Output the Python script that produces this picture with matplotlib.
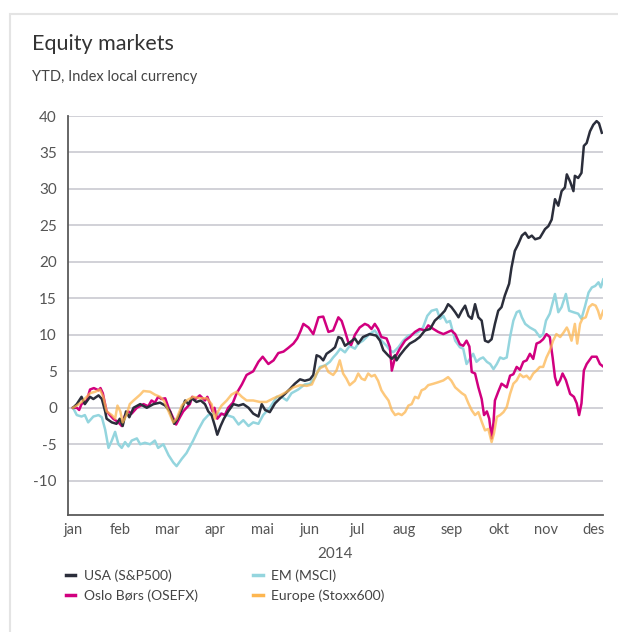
import numpy as np
import matplotlib
matplotlib.use("Agg")
import matplotlib.pyplot as plt
from matplotlib.patches import Rectangle

# ---------------- data (x in month units: 0 = jan, 11 = des) ----------------
months = ["jan", "feb", "mar", "apr", "mai", "jun", "jul", "aug", "sep", "okt", "nov", "des"]
year_label = "2014"
y_ticks = [-10, -5, 0, 5, 10, 15, 20, 25, 30, 35, 40]

usa_t = [0, 0.08, 0.18, 0.25, 0.36, 0.43, 0.54, 0.61, 0.68, 0.71, 0.82, 0.92, 0.99, 1.05, 1.12, 1.19,
         1.28, 1.42, 1.56, 1.70, 1.84, 1.95, 2.05, 2.14, 2.21, 2.28, 2.37, 2.44, 2.51, 2.61, 2.70, 2.79,
         2.86, 2.93, 3.00, 3.05, 3.12, 3.19, 3.28, 3.39, 3.50, 3.60, 3.71, 3.81, 3.92, 3.99, 4.06, 4.16,
         4.27, 4.37, 4.48, 4.59, 4.69, 4.80, 4.90, 5.01, 5.08, 5.15, 5.22, 5.29, 5.36, 5.47, 5.54, 5.61,
         5.68, 5.75, 5.86, 5.96, 6.03, 6.13, 6.27, 6.41, 6.49, 6.56, 6.66, 6.74, 6.81, 6.84, 6.91, 7.02,
         7.12, 7.23, 7.33, 7.44, 7.55, 7.65, 7.76, 7.86, 7.93, 8.00, 8.08, 8.15, 8.22, 8.29, 8.36, 8.43,
         8.50, 8.57, 8.64, 8.71, 8.78, 8.85, 8.92, 8.99, 9.06, 9.13, 9.22, 9.27, 9.34, 9.41, 9.49, 9.56,
         9.63, 9.70, 9.77, 9.87, 9.98, 10.05, 10.12, 10.19, 10.26, 10.33, 10.40, 10.44, 10.51, 10.58,
         10.61, 10.68, 10.75, 10.80, 10.86, 10.93, 11.00, 11.07, 11.12, 11.18]
usa_v = [0, 0.5, 1.5, 0.5, 1.5, 1.2, 1.7, 1.2, -0.5, -1.5, -2.0, -2.2, -1.5, -2.5, -0.5, -1.3,
         0, 0.5, 0, 0.5, 0.7, 0.3, -0.5, -2.2, -1.5, -0.5, 1.0, 0.5, 1.3, 0.8, 1.0, 0.5,
         -0.5, -1.0, -2.5, -3.7, -2.5, -1.5, -0.5, 0.5, 0.3, 0.5, 0, -0.8, -1.2, 0.5, -0.3, -0.6,
         0.6, 1.25, 1.9, 2.6, 3.3, 3.9, 3.7, 3.9, 4.5, 7.2, 7.0, 6.5, 7.4, 7.9, 8.3, 9.7,
         9.5, 8.5, 9.0, 9.5, 8.8, 9.7, 10.1, 9.9, 9.2, 7.9, 7.2, 6.7, 7.2, 6.5, 7.2, 8.1,
         8.8, 9.2, 9.7, 10.6, 10.8, 11.95, 12.6, 13.3, 14.2, 13.8, 13.1, 12.4, 13.3, 14.0, 12.6, 12.2,
         14.2, 12.4, 11.95, 9.2, 9.0, 9.4, 11.5, 13.3, 13.8, 15.4, 17.0, 19.2, 21.5, 22.4, 23.6, 24.0,
         23.3, 23.6, 23.1, 23.3, 24.5, 24.9, 25.8, 28.6, 27.7, 29.7, 30.2, 32.0, 31.0, 29.7,
         31.8, 31.5, 32.2, 35.9, 36.3, 37.9, 38.8, 39.3, 39.0, 37.7]

em_t = [0, 0.08, 0.18, 0.25, 0.32, 0.43, 0.54, 0.61, 0.68, 0.75, 0.82, 0.89, 0.96, 1.03, 1.10, 1.17,
        1.24, 1.35, 1.42, 1.52, 1.63, 1.73, 1.80, 1.91, 2.02, 2.12, 2.19, 2.30, 2.40, 2.54, 2.65, 2.76,
        2.86, 2.97, 3.11, 3.25, 3.39, 3.50, 3.60, 3.71, 3.81, 3.92, 4.02, 4.16, 4.31, 4.41, 4.52, 4.62,
        4.76, 4.90, 5.01, 5.12, 5.22, 5.33, 5.43, 5.50, 5.57, 5.65, 5.75, 5.85, 5.96, 6.03, 6.13, 6.27,
        6.38, 6.45, 6.52, 6.63, 6.70, 6.77, 6.88, 6.98, 7.09, 7.19, 7.30, 7.40, 7.49, 7.58, 7.69, 7.76,
        7.83, 7.90, 7.97, 8.08, 8.18, 8.25, 8.32, 8.39, 8.46, 8.53, 8.60, 8.67, 8.75, 8.82, 8.89, 8.96,
        9.03, 9.10, 9.17, 9.24, 9.31, 9.38, 9.44, 9.49, 9.56, 9.66, 9.77, 9.87, 9.94, 10.00, 10.08,
        10.19, 10.26, 10.33, 10.42, 10.49, 10.58, 10.68, 10.75, 10.82, 10.90, 10.97, 11.04, 11.11,
        11.16, 11.21]
em_v = [0, -1.0, -1.2, -1.0, -2.0, -1.2, -1.0, -1.3, -3.0, -5.5, -4.5, -3.3, -5.0, -5.5, -4.7, -5.3,
        -4.5, -4.2, -5.0, -4.8, -5.0, -4.5, -5.5, -5.0, -6.5, -7.5, -8.0, -7.0, -6.2, -4.5, -3.0, -1.7,
        -1.0, -0.8, -0.8, -1.0, -1.3, -2.3, -1.7, -2.5, -2.0, -2.2, -1.0, 0, 1.5, 1.5, 1.0, 2.0,
        2.5, 3.2, 3.3, 4.2, 5.6, 5.8, 6.3, 6.9, 7.4, 8.1, 7.6, 8.5, 8.1, 8.8, 9.2, 10.1,
        10.6, 9.9, 9.2, 8.5, 7.9, 7.6, 8.3, 9.2, 9.9, 10.1, 10.4, 11.0, 12.6, 13.3, 13.5, 12.2,
        12.6, 11.7, 11.9, 9.2, 8.3, 8.1, 6.0, 6.7, 7.4, 6.3, 6.7, 6.9, 6.3, 6.0, 5.3, 6.0,
        6.9, 6.7, 6.9, 9.7, 11.95, 13.1, 13.3, 12.4, 11.5, 11.0, 10.6, 9.7, 10.1, 11.95, 12.9,
        15.6, 13.1, 13.8, 15.6, 13.3, 13.1, 12.9, 12.2, 13.8, 15.8, 16.5, 16.7, 17.2,
        16.5, 17.6]

oslo_t = [0, 0.08, 0.13, 0.18, 0.29, 0.36, 0.44, 0.54, 0.58, 0.63, 0.71, 0.85, 0.96, 1.03, 1.10, 1.17,
          1.24, 1.35, 1.49, 1.59, 1.66, 1.73, 1.80, 1.87, 1.95, 2.02, 2.09, 2.18, 2.26, 2.33, 2.40, 2.47,
          2.52, 2.59, 2.68, 2.79, 2.84, 2.90, 2.95, 2.99, 3.05, 3.14, 3.21, 3.28, 3.38, 3.46, 3.57, 3.67,
          3.81, 3.92, 4.01, 4.13, 4.24, 4.34, 4.45, 4.55, 4.66, 4.74, 4.81, 4.87, 4.98, 5.08, 5.19, 5.29,
          5.40, 5.50, 5.61, 5.68, 5.75, 5.82, 5.88, 5.96, 6.06, 6.17, 6.24, 6.31, 6.38, 6.45, 6.52, 6.63,
          6.70, 6.74, 6.81, 6.91, 7.02, 7.12, 7.23, 7.33, 7.44, 7.51, 7.62, 7.72, 7.83, 7.93, 8.00, 8.08,
          8.18, 8.25, 8.32, 8.38, 8.43, 8.50, 8.57, 8.64, 8.69, 8.75, 8.80, 8.85, 8.89, 8.92, 8.99, 9.06,
          9.17, 9.24, 9.31, 9.38, 9.45, 9.52, 9.59, 9.66, 9.73, 9.80, 9.87, 9.94, 10.01, 10.08, 10.14,
          10.19, 10.24, 10.30, 10.35, 10.42, 10.51, 10.59, 10.65, 10.70, 10.75, 10.80, 10.86, 10.97,
          11.07, 11.14, 11.20]
oslo_v = [0, 0, -0.3, 0.5, 1.0, 2.5, 2.7, 2.4, 2.7, 2.0, -0.5, -1.5, -2.0, -2.5, -1.0, -0.5,
          -0.8, 0, 0.5, 0.2, 1.0, 0.7, 1.5, 1.2, 1.3, 0, -1.0, -2.3, -1.3, -0.5, 0, 0.5,
          1.5, 1.2, 1.7, 1.0, 1.5, 0.5, -0.5, 0, -1.5, -0.8, -1.0, 0, 0.7, 2.0, 3.2, 4.5,
          5.0, 6.3, 7.0, 6.0, 6.5, 7.5, 7.7, 8.2, 8.8, 9.5, 10.5, 11.5, 11.0, 10.1, 12.4, 12.5,
          10.4, 10.6, 12.4, 11.9, 10.5, 9.0, 8.6, 10.0, 11.0, 11.5, 11.3, 10.8, 11.5, 10.8, 9.7, 9.5,
          8.3, 5.1, 6.9, 8.1, 9.2, 9.7, 10.4, 10.8, 10.6, 11.3, 10.8, 10.4, 10.1, 10.4, 10.6, 10.1,
          8.7, 8.5, 9.2, 8.4, 4.9, 4.7, 2.8, 1.2, -1.0, -0.5, -1.5, -4.2, -2.0, 1.0, 2.2, 3.3,
          2.8, 4.4, 4.6, 5.6, 5.2, 6.3, 6.5, 7.4, 6.7, 8.8, 9.0, 9.4, 10.1, 9.7, 6.9,
          4.2, 3.1, 3.8, 4.7, 3.8, 1.9, 1.5, 0.6, -1.0, 0.6, 5.1, 6.0, 7.0,
          7.0, 6.0, 5.7]

europe_t = [0, 0.08, 0.18, 0.29, 0.36, 0.47, 0.57, 0.64, 0.71, 0.82, 0.89, 0.94, 1.00, 1.05, 1.13, 1.20,
            1.28, 1.42, 1.49, 1.63, 1.73, 1.84, 1.92, 2.02, 2.12, 2.19, 2.30, 2.40, 2.54, 2.68, 2.83, 2.93,
            3.00, 3.04, 3.14, 3.25, 3.35, 3.46, 3.57, 3.67, 3.81, 3.95, 4.09, 4.24, 4.38, 4.52, 4.66, 4.80,
            4.94, 5.05, 5.12, 5.15, 5.22, 5.33, 5.40, 5.50, 5.57, 5.64, 5.71, 5.78, 5.85, 5.96, 6.03, 6.10,
            6.17, 6.24, 6.31, 6.38, 6.45, 6.52, 6.59, 6.67, 6.74, 6.81, 6.88, 6.95, 7.02, 7.09, 7.16, 7.23,
            7.30, 7.37, 7.44, 7.51, 7.62, 7.72, 7.83, 7.93, 8.00, 8.08, 8.15, 8.22, 8.29, 8.36, 8.43, 8.50,
            8.57, 8.64, 8.71, 8.78, 8.85, 8.90, 8.96, 9.03, 9.10, 9.17, 9.24, 9.31, 9.38, 9.45, 9.52, 9.59,
            9.66, 9.73, 9.80, 9.87, 9.94, 10.01, 10.08, 10.15, 10.22, 10.30, 10.37, 10.44, 10.47, 10.54,
            10.61, 10.66, 10.72, 10.77, 10.84, 10.91, 10.98, 11.05, 11.10, 11.15, 11.21]
europe_v = [0, 0.3, 0.8, 1.5, 2.0, 2.2, 2.5, 1.5, -0.5, -1.0, -1.5, 0.3, -0.5, -2.0, -1.0, 0.5,
            1.0, 1.8, 2.3, 2.2, 1.8, 1.5, 1.0, -0.5, -2.0, -1.5, 0.3, 1.0, 1.5, 1.3, 1.3, 0.5,
            -1.5, -0.8, 0.3, 1.0, 1.8, 2.2, 1.5, 1.0, 1.0, 0.8, 0.8, 1.3, 1.7, 2.2, 2.8, 3.1,
            3.0, 3.2, 4.2, 4.7, 5.4, 5.8, 4.9, 4.5, 5.1, 6.5, 4.7, 4.0, 3.1, 3.7, 4.7, 4.0,
            3.8, 4.7, 4.3, 4.5, 3.7, 2.4, 1.7, 1.0, -0.35, -1.0, -0.8, -1.0, -0.6, 0.3, 0.5, 1.5,
            1.3, 2.4, 2.6, 3.1, 3.3, 3.5, 3.75, 4.2, 3.7, 2.8, 2.4, 2.0, 1.7, 0.6, -0.35, -1.0,
            -0.6, -1.9, -3.1, -2.9, -4.7, -3.5, -1.25, -1.0, -0.6, 0.1, 1.9, 3.3, 3.75, 4.6, 4.2, 4.4,
            3.9, 4.7, 5.1, 5.6, 5.6, 6.9, 7.85, 9.2, 10.1, 9.7, 10.3, 11.0, 10.6, 9.2,
            11.5, 8.8, 11.5, 12.2, 12.4, 13.8, 14.2, 14.0, 13.3, 12.2, 13.3]

series = [
    ("EM (MSCI)", em_t, em_v, "#94d5de", 1.0, 1),
    ("Oslo Børs (OSEFX)", oslo_t, oslo_v, "#d1007f", 1.0, 2),
    ("USA (S&P500)", usa_t, usa_v, "#2b2e3b", 1.0, 3),
    ("Europe (Stoxx600)", europe_t, europe_v, "#fdb650", 0.75, 4),
]
legend_order = ["USA (S&P500)", "Oslo Børs (OSEFX)", "EM (MSCI)", "Europe (Stoxx600)"]

# ---------------- figure ----------------
plt.rcParams['font.family'] = ['Lato', 'DejaVu Sans']
W, H = 618, 632
fig = plt.figure(figsize=(W / 100, H / 100), dpi=100)
fig.patch.set_facecolor("white")

# card outline
fig.patches.append(Rectangle((10 / W, -0.1), 1.2, 1.1 - 14 / H, transform=fig.transFigure,
                             facecolor="none", edgecolor="#e4e4e4", lw=1.5))

ax = fig.add_axes([68 / W, 1 - 515 / H, (603 - 68) / W, (515 - 116) / H])
ax.set_xlim(-0.106, 11.205)
ax.set_ylim(-14.7, 40)

handles = {}
for name, t, v, col, alpha, z in series:
    ln, = ax.plot(t, v, color=col, lw=1.8, alpha=alpha, zorder=z, solid_joinstyle="round", label=name)
    handles[name] = ln

ax.set_yticks(y_ticks)
ax.set_yticklabels([str(y) for y in y_ticks])
ax.set_xticks(range(len(months)))
ax.set_xticklabels(months)
ax.grid(axis="y", color="#c9c9d1", lw=1.2)
ax.set_axisbelow(True)
ax.tick_params(length=0, labelsize=11, colors="#555555")
ax.tick_params(axis="y", pad=8)
ax.tick_params(axis="x", pad=6, labelsize=10.5)
for s in ["top", "right"]:
    ax.spines[s].set_visible(False)
for s in ["left", "bottom"]:
    ax.spines[s].set_color("#5a5a5a")
    ax.spines[s].set_linewidth(1.3)
ax.set_xlabel(year_label, fontsize=11, color="#555555", labelpad=7)

fig.text(32 / W, 1 - 44 / H, "Equity markets", fontsize=15.5, color="#333333", va="center", ha="left")
fig.text(32 / W, 1 - 77 / H, "YTD, Index local currency", fontsize=10.5, color="#444444", va="center",
         ha="left")

leg = fig.legend([handles[n] for n in legend_order], legend_order, ncol=2, loc="upper left",
                 bbox_to_anchor=(53 / W, 1 - 557 / H), frameon=False, fontsize=10,
                 handlelength=0.7, handletextpad=0.6, columnspacing=4.0, labelspacing=0.5)
for txt in leg.get_texts():
    txt.set_color("#444444")
for lh in leg.get_lines():
    lh.set_linewidth(2.5)
    lh.set_alpha(1.0)

fig.savefig("out.png", dpi=100, facecolor="white")
